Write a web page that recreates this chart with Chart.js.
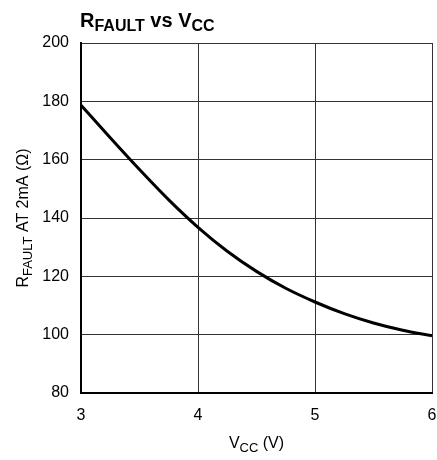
<!DOCTYPE html>
<html>
<head>
<meta charset="utf-8">
<script src="https://cdn.jsdelivr.net/npm/chart.js@4/dist/chart.umd.min.js"></script>
<style>
  html, body { margin: 0; padding: 0; background: #fff; }
  #wrap { width: 437px; height: 460px; position: relative; }
</style>
</head>
<body>
<div id="wrap"><canvas id="grafico"></canvas></div>
<script>
// dados
const vcc = [3.0, 3.25, 3.5, 3.75, 4.0, 4.25, 4.5, 4.75, 5.0, 5.25, 5.5, 5.75, 6.0];
const rFault = [178.7, 167.5, 156.6, 146.2, 136.8, 128.6, 121.7, 115.9, 111.2, 107.2, 104.0, 101.5, 99.6];
const xTicks = [3, 4, 5, 6];
const yTicks = [80, 100, 120, 140, 160, 180, 200];

const FONTE = "'Liberation Sans', Arial, sans-serif";

// desenha texto com subscritos
function textoRico(ctx, partes, x, y, tam, peso, alinhar) {
    const medir = p => {
        ctx.font = `${peso} ${p.sub ? Math.round(tam * 0.8) : tam}px ${FONTE}`;
        return ctx.measureText(p.t).width;
    };
    let total = 0;
    partes.forEach(p => total += medir(p));
    let cx = alinhar === 'center' ? x - total / 2 : x;
    ctx.textBaseline = 'alphabetic';
    ctx.textAlign = 'left';
    partes.forEach(p => {
        const w = medir(p);
        ctx.fillText(p.t, cx, y + (p.sub ? tam * 0.22 : 0));
        cx += w;
    });
}

const titulos = {
    id: 'titulos',
    afterDraw(chart) {
        const ctx = chart.ctx;
        const area = chart.chartArea;
        ctx.save();
        ctx.fillStyle = '#000';
        // título principal
        textoRico(ctx, [{t: 'R'}, {t: 'FAULT', sub: true}, {t: ' vs V'}, {t: 'CC', sub: true}],
            area.left - 1, 27, 20, 'bold', 'left');
        // eixo x
        textoRico(ctx, [{t: 'V'}, {t: 'CC', sub: true}, {t: ' (V)'}],
            (area.left + area.right) / 2, 448, 16, 'normal', 'center');
        // eixo y
        ctx.translate(28, (area.top + area.bottom) / 2);
        ctx.rotate(-Math.PI / 2);
        textoRico(ctx, [{t: 'R'}, {t: 'FAULT', sub: true}, {t: ' AT 2mA (Ω)'}],
            0, 0, 16, 'normal', 'center');
        ctx.restore();
    }
};

const ctx = document.getElementById('grafico').getContext('2d');
new Chart(ctx, {
    type: 'line',
    data: {
        datasets: [{
            data: vcc.map((v, i) => ({x: v, y: rFault[i]})),
            borderColor: '#000',
            borderWidth: 3,
            pointRadius: 0,
            cubicInterpolationMode: 'monotone',
            fill: false
        }]
    },
    options: {
        responsive: true,
        maintainAspectRatio: false,
        animation: false,
        layout: { padding: { top: 43, right: 5, left: 0, bottom: 0 } },
        plugins: { legend: { display: false }, tooltip: { enabled: false } },
        scales: {
            x: {
                type: 'linear',
                min: 3, max: 6,
                afterBuildTicks: s => { s.ticks = xTicks.map(v => ({value: v})); },
                afterFit: s => { s.height = 67; s.paddingLeft = 0; s.paddingRight = 0; },
                grid: { color: '#333', lineWidth: 1, drawTicks: false },
                border: { color: '#000', width: 2 },
                ticks: { color: '#000', padding: 13, font: { family: FONTE, size: 16 } }
            },
            y: {
                min: 80, max: 200,
                afterBuildTicks: s => { s.ticks = yTicks.map(v => ({value: v})); },
                afterFit: s => { s.width = 81; s.paddingTop = 0; s.paddingBottom = 0; },
                grid: { color: '#333', lineWidth: 1, drawTicks: false },
                border: { color: '#000', width: 2 },
                ticks: { color: '#000', padding: 12, font: { family: FONTE, size: 16 } }
            }
        }
    },
    plugins: [titulos]
});
</script>
</body>
</html>
